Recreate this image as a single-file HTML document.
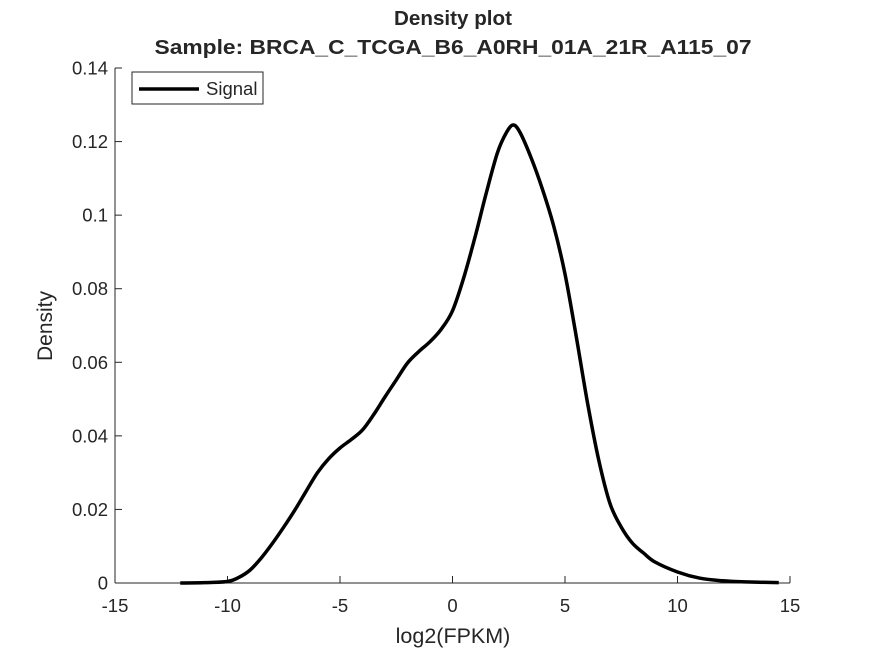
<!DOCTYPE html>
<html><head><meta charset="utf-8"><style>
body{margin:0;background:#fff;}
svg text{font-family:"Liberation Sans",Arial,sans-serif;fill:#262626;}
</style></head><body>
<svg id="chart" width="875" height="656" viewBox="0 0 875 656">
<rect width="875" height="656" fill="#fff"/>
<text x="453" y="25" font-size="20" font-weight="bold" text-anchor="middle" fill="#000" textLength="118" lengthAdjust="spacingAndGlyphs">Density plot</text>
<text x="453" y="54" font-size="20" font-weight="bold" text-anchor="middle" fill="#000" textLength="597" lengthAdjust="spacingAndGlyphs">Sample: BRCA_C_TCGA_B6_A0RH_01A_21R_A115_07</text>
<g id="axes"></g>
<path id="curve" fill="none" stroke="#000" stroke-width="3.5" stroke-linejoin="round"/>
<g>
<rect x="132" y="72" width="131" height="32" fill="#fff" stroke="#262626" stroke-width="1"/>
<line x1="139" y1="89" x2="199" y2="89" stroke="#000" stroke-width="3.5"/>
<text x="206" y="95" font-size="18.5">Signal</text>
</g>
<text x="453" y="643" font-size="21.5" text-anchor="middle">log2(FPKM)</text>
<text transform="translate(52,326) rotate(-90)" font-size="21" text-anchor="middle">Density</text>
</svg>
<script>
const xTicks=[-15,-10,-5,0,5,10,15];
const yTicks=[0,0.02,0.04,0.06,0.08,0.1,0.12,0.14];
const yTickLabels=["0","0.02","0.04","0.06","0.08","0.1","0.12","0.14"];
const xs=[-12.1,-11,-10,-9.5,-9,-8.5,-8,-7.5,-7,-6.5,-6,-5.5,-5,-4.5,-4,-3.5,-3,-2.5,-2,-1.5,-1,-0.5,0,0.5,1,1.5,2,2.4,2.7,3,3.5,4,4.5,5,5.5,6,6.5,7,7.5,8,8.5,9,10,11,12,13,14.5];
const ys=[0,0.0001,0.0004,0.0015,0.0035,0.0068,0.0108,0.0152,0.0199,0.025,0.030,0.0338,0.0367,0.039,0.0416,0.0458,0.0506,0.0552,0.0598,0.0629,0.0656,0.069,0.074,0.083,0.094,0.106,0.117,0.1225,0.1245,0.1225,0.1155,0.107,0.097,0.084,0.067,0.049,0.0334,0.0216,0.0152,0.0108,0.0081,0.0057,0.003,0.0013,0.0006,0.0003,0.0001];
const X=v=>115+(v+15)*22.5;
const Y=v=>583-v/0.14*515;
const NS='http://www.w3.org/2000/svg';
const ax=document.getElementById('axes');
function mk(t,a){const e=document.createElementNS(NS,t);for(const k in a)e.setAttribute(k,a[k]);ax.appendChild(e);return e;}
const xl=mk('line',{x1:115,y1:583,x2:790,y2:583,stroke:'#262626','stroke-width':1});


const yl=mk('line',{x1:115,y1:68,x2:115,y2:583,stroke:'#262626','stroke-width':1});


xTicks.forEach(v=>{
 mk('line',{x1:X(v),y1:583,x2:X(v),y2:576,stroke:'#262626'});
 const t=mk('text',{x:X(v),y:612,'font-size':18.5,'text-anchor':'middle'});t.textContent=v;
 
 
});
yTicks.forEach((v,i)=>{
 mk('line',{x1:115,y1:Y(v),x2:122,y2:Y(v),stroke:'#262626'});
 const t=mk('text',{x:108,y:Y(v)+6.5,'font-size':18.5,'text-anchor':'end'});t.textContent=yTickLabels[i];
 
 
});
const p=xs.map((x,i)=>[X(x),Y(ys[i])]);
let d='M'+p[0][0]+','+p[0][1];
for(let i=0;i<p.length-1;i++){
 const p0=p[Math.max(0,i-1)],p1=p[i],p2=p[i+1],p3=p[Math.min(p.length-1,i+2)];
 d+=' C'+(p1[0]+(p2[0]-p0[0])/6)+','+(p1[1]+(p2[1]-p0[1])/6)+' '+(p2[0]-(p3[0]-p1[0])/6)+','+(p2[1]-(p3[1]-p1[1])/6)+' '+p2[0]+','+p2[1];
}
document.getElementById('curve').setAttribute('d',d);
</script>
</body></html>
